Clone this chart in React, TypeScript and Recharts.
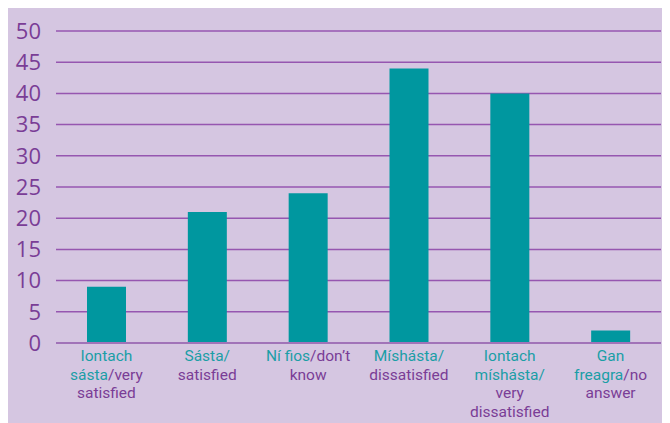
import { BarChart, Bar, XAxis, YAxis, CartesianGrid } from 'recharts'

// Catagóirí agus luachanna (%)
const categories = ['very satisfied', 'satisfied', "don't know", 'dissatisfied', 'very dissatisfied', 'no answer']
const values = [9, 21, 24, 44, 40, 2]
const yTicks = [0, 5, 10, 15, 20, 25, 30, 35, 40, 45, 50]

// Lipéid: gach líne = píosaí [téacs, teanga]
type Seg = [string, 'ga' | 'en']
const labelLines: Seg[][][] = [
  [[['Iontach', 'ga']], [['sásta', 'ga'], ['/very', 'en']], [['satisfied', 'en']]],
  [[['Sásta/', 'ga']], [['satisfied', 'en']]],
  [[['Ní fios', 'ga'], ['/don’t', 'en']], [['know', 'en']]],
  [[['Míshásta/', 'ga']], [['dissatisfied', 'en']]],
  [[['Iontach', 'ga']], [['míshásta/', 'ga']], [['very', 'en']], [['dissatisfied', 'en']]],
  [[['Gan', 'ga']], [['freagra', 'ga'], ['/no', 'en']], [['answer', 'en']]],
]

const data = categories.map((c, i) => ({ name: c, value: values[i] }))

const TEAL = '#00979f'
const TEAL_TEXT = '#1b9ea6'
const PURPLE = '#7a3d96'
const FONT = '"Open Sans", sans-serif'

// Lipéad ilíne, dhá dhath, in aon <text> amháin
function CategoryTick(props: any) {
  const { x, y, index } = props
  const lines = labelLines[index] || []
  return (
    <text x={x} y={y + 18} textAnchor="middle" fontSize={15.5} fontFamily="Roboto, sans-serif">
      {lines.map((segs, li) => (
        <tspan key={li} x={x} dy={li === 0 ? 0 : 18.5}>
          {segs.map(([t, lang], si) => (
            <tspan key={si} fill={lang === 'ga' ? TEAL_TEXT : PURPLE}>{t}</tspan>
          ))}
        </tspan>
      ))}
    </text>
  )
}

export default function App() {
  return (
    <div style={{ width: 662, height: 415, background: '#d5c6e1' }}>
      <BarChart
        width={662}
        height={415}
        data={data}
        margin={{ top: 23, right: 9, left: 0, bottom: 0 }}
      >
        <CartesianGrid horizontal vertical={false} stroke="#9656b0" strokeWidth={1.5} />
        <XAxis
          dataKey="name"
          interval={0}
          tickLine={false}
          tickSize={0}
          tickMargin={0}
          axisLine={{ stroke: '#a173b8', strokeWidth: 2 }}
          height={80}
          tick={<CategoryTick />}
        />
        <YAxis
          domain={[0, 50]}
          ticks={yTicks}
          interval={0}
          width={48}
          axisLine={false}
          tickLine={false}
          tickSize={0}
          tickMargin={15}
          tick={{ fontSize: 22, fill: PURPLE, fontFamily: FONT }}
        />
        <Bar dataKey="value" fill={TEAL} barSize={39} isAnimationActive={false} />
      </BarChart>
    </div>
  )
}
